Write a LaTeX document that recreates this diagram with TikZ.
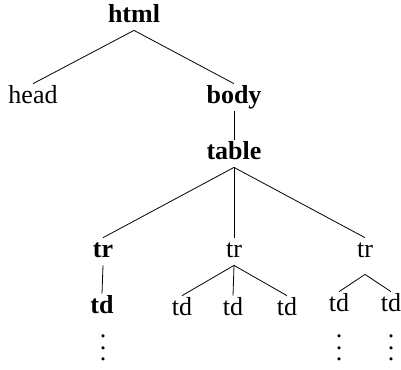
\documentclass[tikz,border=0pt]{standalone}
\usepackage{fontspec}
\setmainfont{Liberation Serif}
\usepackage{tikz}

\newcommand{\trespontos}{\vbox{\baselineskip=5.8bp\lineskiplimit=0pt\hbox{.}\hbox{.}\hbox{.}}}

\begin{document}
\begin{tikzpicture}[x=0.5bp, y=-0.5bp,
    tag/.style={anchor=base, inner sep=2.5bp, text height=0.7em, text depth=0.15em, font=\fontsize{13bp}{15bp}\selectfont},
    forte/.style={tag, font=\fontsize{13bp}{15bp}\selectfont\bfseries},
    pontos/.style={inner sep=0pt, font=\fontsize{13bp}{15bp}\selectfont}]
    \useasboundingbox (0,0) rectangle (401,369);

    % Raiz e primeiro nivel
    \node[forte] (html) at (134,22) {html};
    \node[tag] (head) at (33,103) {head};
    \node[forte] (body) at (234,103) {body};
    \node[forte] (table) at (234,159) {table};

    % Linhas da tabela
    \node[forte] (trA) at (103,257) {tr};
    \node[tag] (trB) at (234,257) {tr};
    \node[tag] (trC) at (365,257) {tr};
    \coordinate (rC) at ([yshift=-4.5bp]trC.south);

    % Celulas
    \node[forte] (tdA) at (102,313) {td};
    \node[tag] (tdB) at (182,315) {td};
    \node[tag] (tdC) at (233,315) {td};
    \node[tag] (tdD) at (287,315) {td};
    \node[tag] (tdE) at (339,311) {td};
    \node[tag] (tdF) at (391,311) {td};

    % Reticencias
    \node[pontos] (vA) at (103,348) {\trespontos};
    \node[pontos] (vE) at (339,348) {\trespontos};
    \node[pontos] (vF) at (391,348) {\trespontos};

    % Arestas
    \draw (html.south) -- (head.north);
    \draw (html.south) -- (body.north);
    \draw (body.south) -- (table.north);
    \draw (table.south) -- (trA.north);
    \draw (table.south) -- (trB.north);
    \draw (table.south) -- (trC.north);
    \draw (trA.south) -- (tdA.north);
    \draw (trB.south) -- (tdB.north);
    \draw (trB.south) -- (tdC.north);
    \draw (trB.south) -- (tdD.north);
    \draw (rC) -- (tdE.north);
    \draw (rC) -- (tdF.north);
\end{tikzpicture}
\end{document}
